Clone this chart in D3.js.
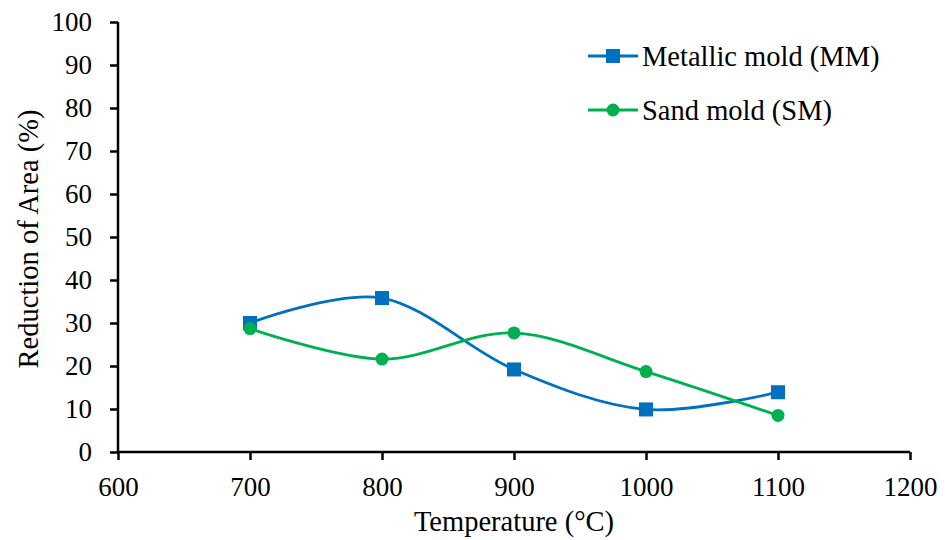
<!DOCTYPE html>
<html>
<head>
<meta charset="utf-8">
<script src="https://cdn.jsdelivr.net/npm/d3@7/dist/d3.min.js"></script>
<style>
  html, body { margin: 0; padding: 0; background: #fff; }
  svg text { font-family: "Liberation Serif", "Times New Roman", serif; fill: #000; }
</style>
</head>
<body>
<svg id="chart" width="945" height="540"></svg>
<script>
// Temperatures (°C) tested
const temperatures = [700, 800, 900, 1000, 1100];
// Reduction of area (%) for each mold type
const metallicMold = [30.0, 35.8, 19.2, 9.9, 13.9];
const sandMold = [28.7, 21.6, 27.7, 18.7, 8.5];
// Axis ticks
const xTicks = [600, 700, 800, 900, 1000, 1100, 1200];
const yTicks = [0, 10, 20, 30, 40, 50, 60, 70, 80, 90, 100];
const seriesNames = ["Metallic mold (MM)", "Sand mold (SM)"];

const svg = d3.select("#chart");
const margin = { left: 118, right: 35, top: 22, bottom: 88 };
const W = 945, H = 540;
const tickFont = 27, titleFont = 28.5;

const x = d3.scaleLinear().domain([600, 1200]).range([margin.left, W - margin.right]);
const y = d3.scaleLinear().domain([0, 100]).range([H - margin.bottom, margin.top]);

const series = [
  { name: seriesNames[0], values: metallicMold, color: "#0070C0", marker: "square" },
  { name: seriesNames[1], values: sandMold, color: "#00B050", marker: "circle" }
];

// Axes
const xAxis = svg.append("g")
  .attr("transform", `translate(0,${y(0)})`)
  .call(d3.axisBottom(x).tickValues(xTicks).tickSize(8).tickPadding(17).tickFormat(d3.format("d")));
const yAxis = svg.append("g")
  .attr("transform", `translate(${x(600)},0)`)
  .call(d3.axisLeft(y).tickValues(yTicks).tickSize(8).tickPadding(18).tickFormat(d3.format("d")));

[xAxis, yAxis].forEach(g => {
  g.select(".domain").attr("stroke", "#000").attr("stroke-width", 2.5);
  g.selectAll(".tick line").attr("stroke", "#000").attr("stroke-width", 2.5);
  g.selectAll(".tick text").attr("font-size", tickFont).attr("font-family", "Liberation Serif");
});
// Plain axis lines without the outer end ticks
xAxis.select(".domain").attr("d", `M${x(600)},0H${x(1200)}`);
yAxis.select(".domain").attr("d", `M0,${y(0)}V${y(100)}`);

// Axis titles
svg.append("text")
  .attr("x", (x(600) + x(1200)) / 2)
  .attr("y", 531)
  .attr("text-anchor", "middle")
  .attr("font-size", titleFont)
  .text("Temperature (°C)");
svg.append("text")
  .attr("transform", `translate(38,${(y(0) + y(100)) / 2 + 2}) rotate(-90)`)
  .attr("text-anchor", "middle")
  .attr("font-size", titleFont)
  .text("Reduction of Area (%)");

// Smoothed lines
const line = d3.line()
  .x((d, i) => x(temperatures[i]))
  .y(d => y(d))
  .curve(d3.curveCatmullRom.alpha(0));

function drawMarker(g, type, cx, cy, color) {
  if (type === "square") {
    g.append("rect").attr("x", cx - 7).attr("y", cy - 7).attr("width", 14).attr("height", 14).attr("fill", color);
  } else {
    g.append("circle").attr("cx", cx).attr("cy", cy).attr("r", 6.5).attr("fill", color);
  }
}

series.forEach(s => {
  svg.append("path")
    .datum(s.values)
    .attr("d", line)
    .attr("fill", "none")
    .attr("stroke", s.color)
    .attr("stroke-width", 2.8);
  const g = svg.append("g");
  s.values.forEach((v, i) => drawMarker(g, s.marker, x(temperatures[i]), y(v), s.color));
});

// Legend
const legend = svg.append("g");
series.forEach((s, i) => {
  const ly = 56 + i * 54;
  legend.append("line")
    .attr("x1", 588).attr("x2", 638).attr("y1", ly).attr("y2", ly)
    .attr("stroke", s.color).attr("stroke-width", 2.8);
  drawMarker(legend, s.marker, 613, ly, s.color);
  legend.append("text")
    .attr("x", 642).attr("y", ly + 10)
    .attr("font-size", titleFont)
    .text(s.name);
});
</script>
</body>
</html>
